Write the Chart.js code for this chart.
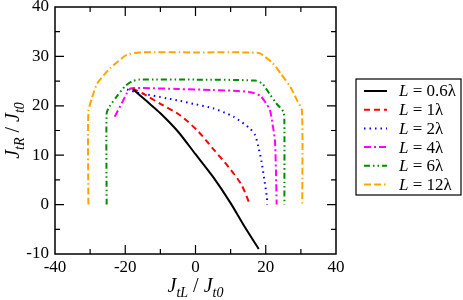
<!DOCTYPE html>
<html>
<head>
<meta charset="utf-8">
<script src="https://cdn.jsdelivr.net/npm/chart.js@4/dist/chart.umd.min.js"></script>
<style>
  html, body { margin: 0; padding: 0; background: #fff; }
  #wrap { width: 463px; height: 300px; position: relative; }
  #probe { position: absolute; left: -999px; top: 0; font-family: "Liberation Serif"; }
</style>
</head>
<body>
<div id="wrap"><canvas id="chart" width="463" height="300"></canvas></div>
<span id="probe">J <i>L</i> 0123456789λ</span>
<script>
// values
const lengths = ['0.6', '1', '2', '4', '6', '12'];
const colors = ['#000000', '#ff0000', '#0000ff', '#ff00ff', '#008c00', '#ffa500'];

const x06 = [-17.7, -14, -10, -5, 0, 5, 10, 14, 18];
const y06 = [23.3, 21, 18.5, 14.8, 10.2, 5.6, 0.3, -4.5, -9];

const x1 = [-18, -15, -10, -4.4, 0.8, 5, 9.3, 13.1, 15.5];
const y1 = [23.5, 22.5, 20.4, 18.1, 14.8, 11.3, 7.7, 4.0, 0];

const x2 = [-19.5, -16, -8, -4.4, 0, 5, 10.8, 15.5, 17, 17.9, 18.8, 19.6, 20.3, 20.4];
const y2 = [23.3, 22.6, 21.5, 21.0, 20.3, 19.5, 17.8, 15.4, 14.0, 11.7, 8.7, 5, 1.6, 0];

const x4 = [-23, -21, -19.5, -18.5, -15, -5, 5, 12, 16, 18.5, 20, 21.2, 22, 22.6, 22.9, 23.1];
const y4 = [17.8, 20.5, 22.6, 23.5, 23.6, 23.4, 23.2, 23.0, 22.7, 22.0, 20.6, 19.1, 16, 13.1, 7, 0];

const x6 = [-25.3, -25.3, -24.5, -22.5, -20, -18, -16, 0, 17, 19, 21, 23, 25, 25.3, 25.3];
const y6 = [0, 18.5, 19.8, 21.8, 24, 25, 25.3, 25.3, 25.1, 24.5, 22.5, 20.5, 18.8, 17, 0];

const x12 = [-30.5, -30.5, -29.5, -28, -26, -24.3, -22, -19.6, -16, 0, 18, 20, 22, 24.5, 27, 29, 30.3, 30.4];
const y12 = [0, 18.8, 21.5, 24.5, 26.3, 27.6, 29, 30.3, 30.8, 30.8, 30.7, 29.8, 28.6, 26.3, 23.8, 21, 19, 0];

const xSeries = [x06, x1, x2, x4, x6, x12];
const ySeries = [y06, y1, y2, y4, y6, y12];
const dashes = [[], [6, 4], [1.5, 4], [7, 3, 2, 3], [6, 3, 1.5, 3, 1.5, 3], [7, 3, 7, 3, 1.5, 3]];

const serif = "'Liberation Serif', 'Times New Roman', Times, 'DejaVu Serif', serif";

function toPoints(xs, ys) {
  return xs.map((x, i) => ({ x: x, y: ys[i] }));
}

const datasets = lengths.map((len, i) => ({
  label: len,
  data: toPoints(xSeries[i], ySeries[i]),
  showLine: true,
  borderColor: colors[i],
  backgroundColor: colors[i],
  borderWidth: 2,
  borderDash: dashes[i],
  pointRadius: 0,
  tension: 0.25,
  fill: false
}));

// draw text made of pieces: [text, italic, subscript]
function pieceFont(p) {
  return (p[1] ? 'italic ' : '') + (p[2] ? '14px ' : '20px ') + serif;
}
function piecesWidth(ctx, pieces) {
  let w = 0;
  pieces.forEach(p => { ctx.font = pieceFont(p); w += ctx.measureText(p[0]).width; });
  return w;
}
function drawPieces(ctx, pieces, x, y) {
  let cx = x;
  pieces.forEach(p => {
    ctx.font = pieceFont(p);
    ctx.fillText(p[0], cx, p[2] ? y + 5 : y);
    cx += ctx.measureText(p[0]).width;
  });
}

const framePlugin = {
  id: 'frame',
  afterDraw(chart) {
    const ctx = chart.ctx;
    const a = chart.chartArea;
    const xs = chart.scales.x, ys = chart.scales.y;
    ctx.save();
    ctx.strokeStyle = '#000';
    ctx.lineWidth = 1.5;
    ctx.setLineDash([]);
    ctx.strokeRect(a.left, a.top, a.right - a.left, a.bottom - a.top);
    ctx.lineWidth = 1.2;
    ctx.beginPath();
    for (let v = -30; v <= 30; v += 10) {
      const px = xs.getPixelForValue(v);
      const len = v % 20 === 0 ? 9 : 5;
      ctx.moveTo(px, a.bottom); ctx.lineTo(px, a.bottom - len);
      ctx.moveTo(px, a.top); ctx.lineTo(px, a.top + len);
    }
    for (let v = -5; v <= 35; v += 5) {
      const py = ys.getPixelForValue(v);
      const len = v % 10 === 0 ? 9 : 5;
      ctx.moveTo(a.left, py); ctx.lineTo(a.left + len, py);
      ctx.moveTo(a.right, py); ctx.lineTo(a.right - len, py);
    }
    ctx.stroke();

    // axis titles
    ctx.fillStyle = '#000';
    ctx.textBaseline = 'alphabetic';
    const xt = [['J', true, false], ['tL', true, true], [' / ', false, false], ['J', true, false], ['t0', true, true]];
    const xw = piecesWidth(ctx, xt);
    drawPieces(ctx, xt, (a.left + a.right) / 2 - xw / 2, 292);
    const yt = [['J', true, false], ['tR', true, true], [' / ', false, false], ['J', true, false], ['t0', true, true]];
    const yw = piecesWidth(ctx, yt);
    ctx.translate(19, (a.top + a.bottom) / 2 + yw / 2);
    ctx.rotate(-Math.PI / 2);
    drawPieces(ctx, yt, 0, 0);
    ctx.restore();

    // legend
    ctx.save();
    const bx = a.right + 20, by = 79, bw = 105, bh = 116;
    ctx.strokeStyle = '#000';
    ctx.lineWidth = 1.2;
    ctx.strokeRect(bx, by, bw, bh);
    chart.data.datasets.forEach((ds, i) => {
      const ry = by + 12 + i * 18.7;
      ctx.strokeStyle = ds.borderColor;
      ctx.lineWidth = 2;
      ctx.setLineDash(ds.borderDash);
      ctx.beginPath();
      ctx.moveTo(bx + 8, ry);
      ctx.lineTo(bx + 31, ry);
      ctx.stroke();
      ctx.setLineDash([]);
      ctx.fillStyle = '#000';
      ctx.textBaseline = 'middle';
      let tx = bx + 43;
      ctx.font = 'italic 17px ' + serif;
      ctx.fillText('L', tx, ry + 1);
      tx += ctx.measureText('L').width;
      ctx.font = '17px ' + serif;
      ctx.fillText(' = ' + ds.label + 'λ', tx, ry + 1);
    });
    ctx.restore();
  }
};

function build() {
  new Chart(document.getElementById('chart'), {
    type: 'scatter',
    data: { datasets: datasets },
    options: {
      responsive: false,
      animation: false,
      layout: { padding: { top: 7, right: 127, bottom: 0, left: 0 } },
      plugins: { legend: { display: false }, tooltip: { enabled: false } },
      scales: {
        x: {
          type: 'linear', min: -40, max: 40,
          grid: { display: false, drawTicks: false },
          border: { display: false },
          ticks: { stepSize: 20, padding: 3, color: '#000', font: { family: serif, size: 17 } },
          afterFit(scale) { scale.height = 46; }
        },
        y: {
          type: 'linear', min: -10, max: 40,
          grid: { display: false, drawTicks: false },
          border: { display: false },
          ticks: { stepSize: 10, padding: 6, color: '#000', font: { family: serif, size: 17 } },
          afterFit(scale) { scale.width = 55; scale.paddingTop = 0; scale.paddingBottom = 0; }
        }
      }
    },
    plugins: [framePlugin]
  });
}

Promise.all([
  document.fonts.load("17px 'Liberation Serif'"),
  document.fonts.load("italic 17px 'Liberation Serif'")
]).then(build, build);
</script>
</body>
</html>
